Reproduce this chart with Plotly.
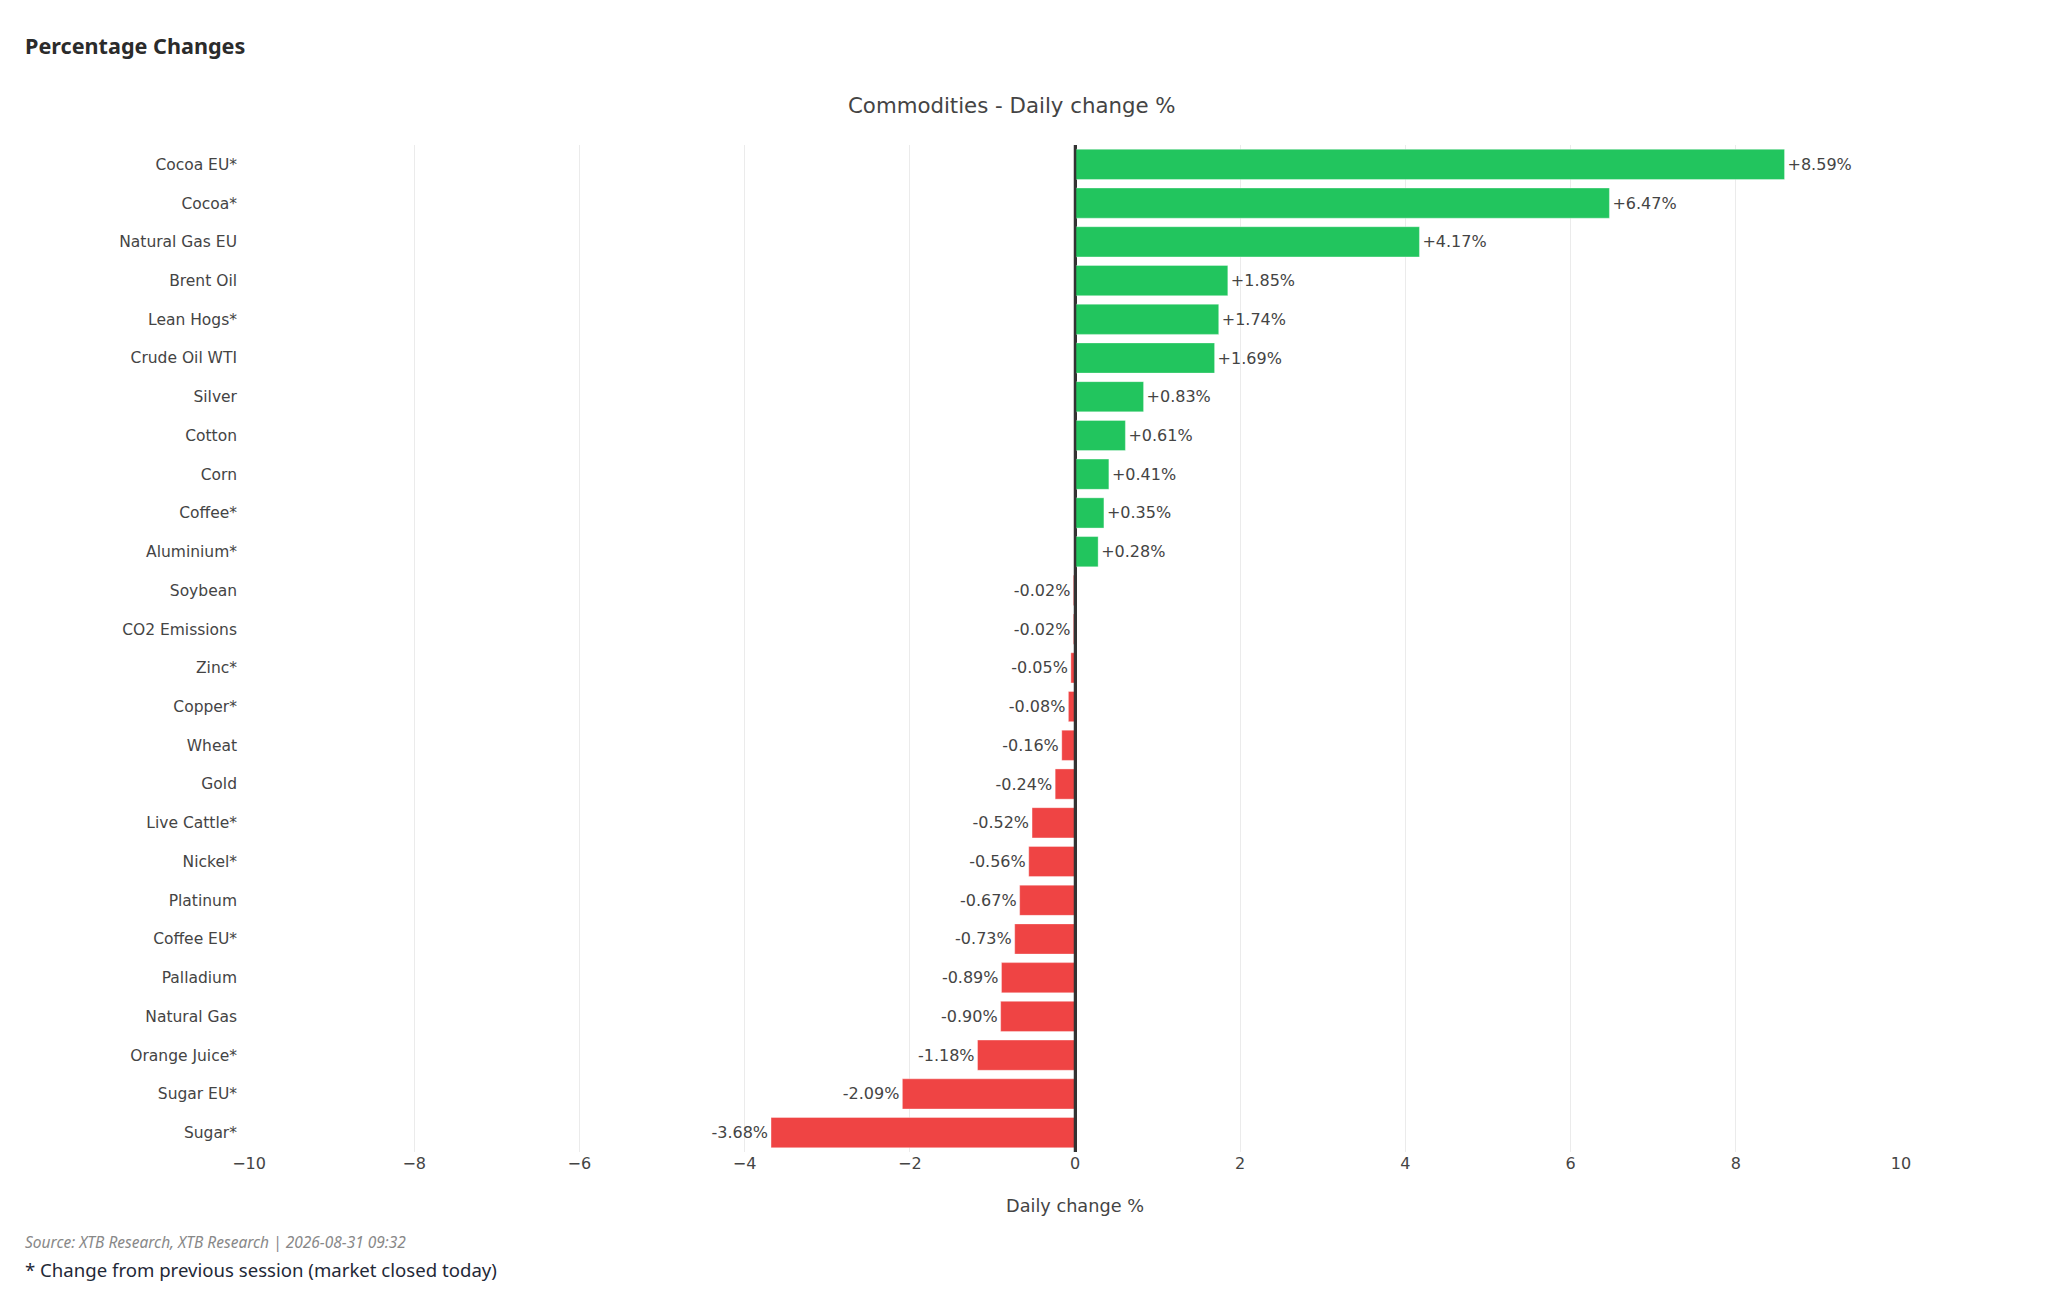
import plotly.graph_objects as go

commodities = [
    "Cocoa EU*", "Cocoa*", "Natural Gas EU", "Brent Oil", "Lean Hogs*",
    "Crude Oil WTI", "Silver", "Cotton", "Corn", "Coffee*", "Aluminium*",
    "Soybean", "CO2 Emissions", "Zinc*", "Copper*", "Wheat", "Gold",
    "Live Cattle*", "Nickel*", "Platinum", "Coffee EU*", "Palladium",
    "Natural Gas", "Orange Juice*", "Sugar EU*", "Sugar*",
]
daily_change = [
    8.59, 6.47, 4.17, 1.85, 1.74, 1.69, 0.83, 0.61, 0.41, 0.35, 0.28,
    -0.02, -0.02, -0.05, -0.08, -0.16, -0.24, -0.52, -0.56, -0.67, -0.73,
    -0.89, -0.90, -1.18, -2.09, -3.68,
]
x_ticks = [-10, -8, -6, -4, -2, 0, 2, 4, 6, 8, 10]

GREEN = "#22c55e"
RED = "#ef4444"
colors = [GREEN if v >= 0 else RED for v in daily_change]
labels = [f"{v:+.2f}%" for v in daily_change]

fig = go.Figure(
    go.Bar(
        x=daily_change,
        y=commodities,
        orientation="h",
        marker=dict(color=colors, line=dict(color="rgba(255,255,255,0.35)", width=1)),
        text=labels,
        textposition="outside",
        textfont=dict(family="DejaVu Sans", size=16, color="#444"),
        cliponaxis=False,
        hovertemplate="%{y}: %{x:+.2f}%<extra></extra>",
    )
)

fig.add_vline(x=0, line=dict(color="#333333", width=2.5), layer="above")

fig.update_layout(
    width=2048,
    height=1311,
    paper_bgcolor="white",
    plot_bgcolor="white",
    margin=dict(l=249, r=147, t=145, b=159),
    bargap=0.22,
    showlegend=False,
    font=dict(family="DejaVu Sans", size=16, color="#444"),
    xaxis=dict(
        range=[-10, 10],
        tickvals=x_ticks,
        showgrid=True,
        gridcolor="#ebebeb",
        gridwidth=1,
        zeroline=True,
        zerolinecolor="#333333",
        zerolinewidth=2.5,
        showline=False,
        ticks="",
        tickfont=dict(size=16, color="#444"),
        title=dict(text="Daily change %", font=dict(size=17.7, color="#444"), standoff=27),
    ),
    yaxis=dict(
        autorange="reversed",
        showgrid=False,
        ticks="",
        ticklabelstandoff=11,
        tickfont=dict(size=15.5, color="#444"),
    ),
    annotations=[
        dict(
            text="<b>Percentage Changes</b>",
            xref="paper", yref="paper", x=-0.137, y=1.0993,
            xanchor="left", yanchor="middle", showarrow=False,
            font=dict(family="Noto Sans", size=21.6, color="#2b2b2b"),
        ),
        dict(
            text="Commodities - Daily change %",
            xref="paper", yref="paper", x=0.462, y=1.0397,
            xanchor="center", yanchor="middle", showarrow=False,
            font=dict(family="DejaVu Sans", size=21.3, color="#444"),
        ),
        dict(
            text="<i>Source: XTB Research, XTB Research | 2026-08-31 09:32</i>",
            xref="paper", yref="paper", x=-0.137, y=-0.0893,
            xanchor="left", yanchor="middle", showarrow=False,
            font=dict(family="Noto Sans", size=15.5, color="#888888"),
        ),
        dict(
            text="* Change from previous session (market closed today)",
            xref="paper", yref="paper", x=-0.137, y=-0.1162,
            xanchor="left", yanchor="middle", showarrow=False,
            font=dict(family="Noto Sans", size=18.6, color="#1f2937"),
        ),
    ],
)

fig.write_html(
    "out.html",
    config={"displayModeBar": False},
    post_script="document.body.style.margin='0';",
)
